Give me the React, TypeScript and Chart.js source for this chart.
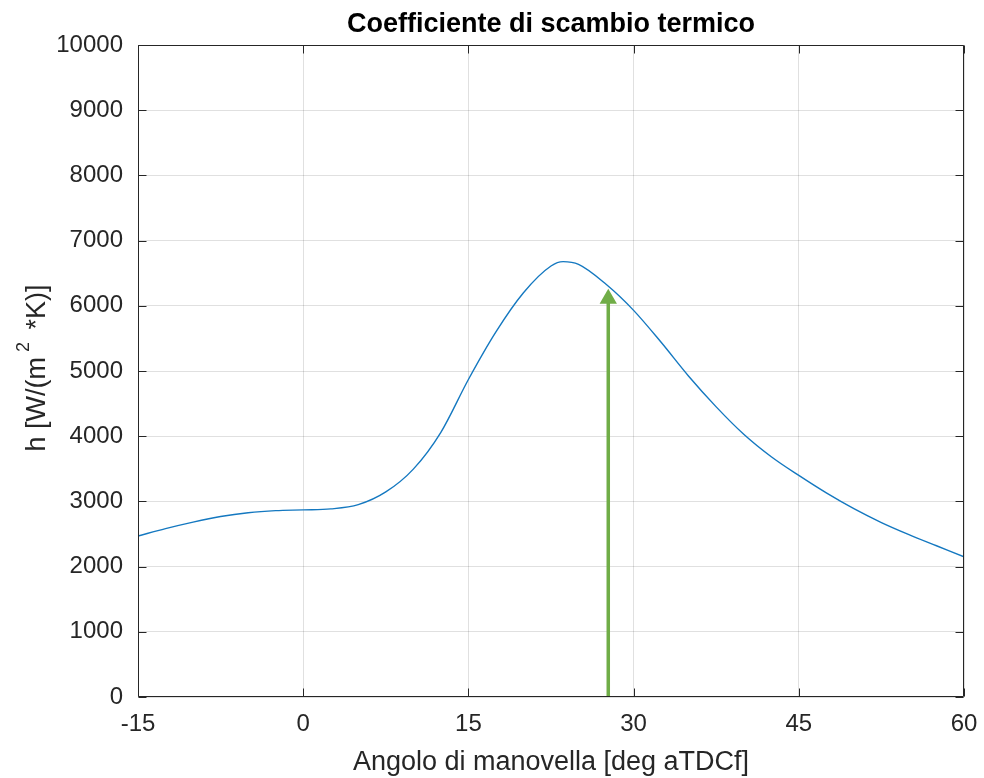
import React, { useEffect, useRef } from 'react';
import { Chart, registerables } from 'chart.js';

Chart.register(...registerables);

// Crank angle [deg aTDCf]
const angles = [-15, -12.5, -10, -7.5, -5, -2.5, 0, 2.5, 5, 7.5, 10, 12.5, 15, 17.5, 20, 22.5, 23.6, 25, 27.5, 30, 32.5, 35, 37.5, 40, 42.5, 45, 47.5, 50, 52.5, 55, 57.5, 60];
// Heat transfer coefficient h [W/(m^2*K)]
const hValues = [2470, 2583, 2683, 2768, 2826, 2858, 2870, 2885, 2950, 3145, 3495, 4060, 4870, 5600, 6200, 6610, 6677, 6635, 6330, 5930, 5440, 4920, 4450, 4030, 3685, 3398, 3130, 2888, 2675, 2490, 2320, 2150];

// Green arrow
const arrowX = 27.7;
const arrowBase = 0;
const arrowTop = 6110;

const xTicks = [-15, 0, 15, 30, 45, 60];
const yTicks = [0, 1000, 2000, 3000, 4000, 5000, 6000, 7000, 8000, 9000, 10000];

const titleText = 'Coefficiente di scambio termico';
const xTitleText = 'Angolo di manovella [deg aTDCf]';
const yTitleMain = 'h [W/(m';
const yTitleSup = '2';
const yTitleEnd = ' *K)]';

const FONT = '"Liberation Sans", Arial, Helvetica, sans-serif';
const TEXT = '#262626';

const framePlugin = {
  id: 'frame',
  afterDraw(chart: any) {
    const { ctx, chartArea, scales } = chart;
    const { left, right, top, bottom } = chartArea;
    const x = scales.x;
    const y = scales.y;
    ctx.save();
    ctx.strokeStyle = TEXT;
    ctx.lineWidth = 1;
    const L = Math.round(left) + 0.5;
    const R = Math.round(right) - 0.5;
    const T = Math.round(top) + 0.5;
    const B = Math.round(bottom) - 0.5;
    const tl = 8;
    ctx.beginPath();
    ctx.rect(L, T, R - L, B - T);
    xTicks.forEach((v) => {
      const p = Math.round(x.getPixelForValue(v)) + 0.5;
      ctx.moveTo(p, B);
      ctx.lineTo(p, B - tl);
      ctx.moveTo(p, T);
      ctx.lineTo(p, T + tl);
    });
    yTicks.forEach((v) => {
      const p = Math.round(y.getPixelForValue(v)) + 0.5;
      ctx.moveTo(L, p);
      ctx.lineTo(L + tl, p);
      ctx.moveTo(R, p);
      ctx.lineTo(R - tl, p);
    });
    ctx.stroke();

    // y-axis title with superscript
    const mainFont = `27px ${FONT}`;
    const supFont = `18px ${FONT}`;
    ctx.fillStyle = TEXT;
    ctx.textBaseline = 'alphabetic';
    ctx.textAlign = 'left';
    ctx.font = mainFont;
    const w1 = ctx.measureText(yTitleMain).width;
    const w3 = ctx.measureText(yTitleEnd).width;
    ctx.font = supFont;
    const w2 = ctx.measureText(yTitleSup).width;
    const gap = 5;
    const total = w1 + gap + w2 + gap + w3;
    const cy = (top + bottom) / 2 - 3;
    ctx.translate(45, cy);
    ctx.rotate(-Math.PI / 2);
    let pos = -total / 2;
    ctx.font = mainFont;
    ctx.fillText(yTitleMain, pos, 0);
    pos += w1 + gap;
    ctx.font = supFont;
    ctx.fillText(yTitleSup, pos, -16);
    pos += w2 + gap;
    ctx.font = mainFont;
    ctx.fillText(yTitleEnd, pos, 0);
    ctx.restore();
  },
};

export default function App() {
  const ref = useRef<HTMLCanvasElement | null>(null);

  useEffect(() => {
    if (!ref.current) return;
    const curve = angles.map((a, i) => ({ x: a, y: hValues[i] }));
    const arrow = [
      { x: arrowX, y: arrowBase },
      { x: arrowX, y: arrowTop },
    ];
    const chart = new Chart(ref.current, {
      type: 'line',
      data: {
        datasets: [
          {
            label: 'arrow',
            data: arrow,
            borderColor: '#70AD47',
            backgroundColor: '#70AD47',
            borderWidth: 3.5,
            pointStyle: 'triangle',
            pointRadius: [0, 10],
            pointBorderWidth: 0,
            pointBackgroundColor: '#70AD47',
            tension: 0,
          },
          {
            label: 'h',
            data: curve,
            borderColor: '#1478c0',
            borderWidth: 1.4,
            pointRadius: 0,
            cubicInterpolationMode: 'monotone',
            fill: false,
          },
        ],
      },
      options: {
        responsive: false,
        animation: false,
        devicePixelRatio: 1,
        layout: { padding: { left: 0, right: 20, top: 0, bottom: 0 } },
        plugins: {
          legend: { display: false },
          tooltip: { enabled: false },
          title: {
            display: true,
            text: titleText,
            fullSize: false,
            color: '#000',
            font: { family: FONT, size: 27, weight: 'bold' },
            padding: { top: 8.5, bottom: 4.1 },
          },
        },
        scales: {
          x: {
            type: 'linear',
            min: -15,
            max: 60,
            afterBuildTicks: (s: any) => {
              s.ticks = xTicks.map((v) => ({ value: v }));
            },
            afterFit: (s: any) => {
              s.height = 81;
            },
            ticks: {
              color: TEXT,
              font: { family: FONT, size: 24 },
              padding: 4,
              maxRotation: 0,
              autoSkip: false,
            },
            grid: {
              color: 'rgba(0,0,0,0.12)',
              drawTicks: true,
              tickLength: 9,
              tickColor: 'rgba(0,0,0,0)',
              lineWidth: 1,
            },
            border: { display: false },
            title: {
              display: true,
              text: xTitleText,
              color: TEXT,
              font: { family: FONT, size: 27 },
              padding: { top: 0, bottom: -1 },
            },
          },
          y: {
            type: 'linear',
            min: 0,
            max: 10000,
            afterBuildTicks: (s: any) => {
              s.ticks = yTicks.map((v) => ({ value: v }));
            },
            afterFit: (s: any) => {
              s.width = 138;
            },
            ticks: {
              color: TEXT,
              font: { family: FONT, size: 24 },
              padding: 15,
              autoSkip: false,
              callback: (v: any) => String(v),
            },
            grid: { color: 'rgba(0,0,0,0.12)', drawTicks: false, lineWidth: 1 },
            border: { display: false },
          },
        },
      },
      plugins: [framePlugin],
    } as any);
    return () => chart.destroy();
  }, []);

  return (
    <div style={{ position: 'absolute', left: 0, top: 0, width: 984, height: 778, background: '#fff' }}>
      <canvas ref={ref} width={984} height={778} style={{ width: 984, height: 778, display: 'block' }} />
    </div>
  );
}
